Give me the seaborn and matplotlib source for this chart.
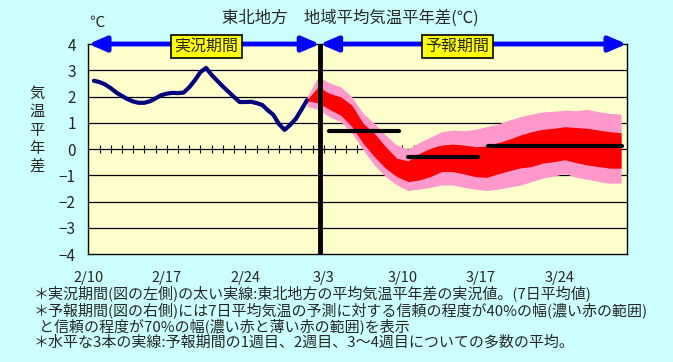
import numpy as np
import matplotlib
matplotlib.use("Agg")
import matplotlib.pyplot as plt
import seaborn as sns

# x positions are days counted from 2/10
tick_days = [0, 7, 14, 21, 28, 35, 42]
tick_labels = ["2/10", "2/17", "2/24", "3/3", "3/10", "3/17", "3/24"]

# observed 7-day mean anomaly (left side), read every half day
obs_day = np.arange(1, 40) * 0.5
obs_anom = [2.60, 2.55, 2.46, 2.32, 2.15, 2.02, 1.90, 1.81, 1.76, 1.76,
            1.82, 1.93, 2.05, 2.11, 2.14, 2.13, 2.15, 2.35, 2.62, 2.93,
            3.09, 2.82, 2.60, 2.38, 2.18, 1.98, 1.79, 1.79, 1.80, 1.75,
            1.68, 1.48, 1.30, 0.95, 0.73, 0.92, 1.15, 1.50, 1.86]

# forecast bands (right side): 70% range (pink) and 40% range (red)
fc_day = np.arange(19, 48) + 0.5
pink_top = [2.00, 2.75, 2.52, 2.37, 1.99, 1.36, 0.98, 0.53, 0.15, 0.00,
            0.25, 0.45, 0.66, 0.72, 0.70, 0.75, 0.85, 0.95, 1.10, 1.23,
            1.33, 1.41, 1.44, 1.48, 1.46, 1.51, 1.42, 1.36, 1.33]
red_top = [1.88, 2.37, 2.12, 1.99, 1.67, 0.98, 0.60, 0.09, -0.35, -0.45,
           -0.17, 0.03, 0.15, 0.19, 0.15, 0.09, 0.11, 0.24, 0.37, 0.53,
           0.66, 0.75, 0.79, 0.85, 0.82, 0.79, 0.72, 0.66, 0.62]
red_bot = [1.84, 1.76, 1.51, 1.29, 0.85, 0.22, -0.29, -0.73, -1.05, -1.24,
           -1.18, -1.05, -0.86, -0.86, -0.95, -1.05, -1.08, -0.95, -0.83, -0.72,
           -0.67, -0.54, -0.48, -0.41, -0.52, -0.61, -0.67, -0.73, -0.73]
pink_bot = [1.62, 1.51, 1.23, 1.04, 0.60, -0.04, -0.61, -1.05, -1.37, -1.58,
            -1.53, -1.46, -1.37, -1.37, -1.46, -1.53, -1.58, -1.53, -1.45, -1.38,
            -1.24, -1.11, -1.03, -0.93, -1.08, -1.15, -1.24, -1.30, -1.30]

# ensemble means: week 1, week 2, weeks 3-4
week_start = [21.5, 28.5, 35.6]
week_end = [27.7, 34.7, 47.6]
week_mean = [0.68, -0.29, 0.10]

split_day = 20.65

sns.set_style("white")
plt.rcParams["font.family"] = ["Noto Sans CJK JP", "DejaVu Sans"]

fig = plt.figure(figsize=(6.73, 3.62), dpi=100, facecolor="#CCFFFF")
ax = fig.add_axes([0.1312, 0.2983, 0.8, 0.5801])
ax.set_facecolor("#FFFFCC")

ax.set_xlim(0, 48)
ax.set_ylim(-4, 4)

# horizontal grid
for yv in range(-3, 4):
    ax.axhline(yv, color="black", lw=0.9, zorder=1)
# daily ticks on the zero line
ax.vlines(np.arange(1, 48), -0.15, 0.15, color="black", lw=0.8, zorder=1.5)

ax.fill_between(fc_day, pink_bot, pink_top, color="#FF99CC", lw=0, zorder=2)
ax.fill_between(fc_day, red_bot, red_top, color="#FF0000", lw=0, zorder=3)

sns.lineplot(x=obs_day, y=obs_anom, color="#000080", lw=3, ax=ax, zorder=4)

for s, e, m in zip(week_start, week_end, week_mean):
    ax.plot([s, e], [m, m], color="black", lw=3, solid_capstyle="round", zorder=5)

ax.axvline(split_day, color="black", lw=3.5, zorder=6)

# period arrows along the top
arrow = dict(arrowstyle="<|-|>,head_length=0.75,head_width=0.32", color="#0000FF",
             lw=3.5, shrinkA=0, shrinkB=0, mutation_scale=14)
ax.annotate("", xy=(0, 4), xytext=(split_day, 4), arrowprops=arrow,
            annotation_clip=False, zorder=7)
ax.annotate("", xy=(split_day, 4), xytext=(48, 4), arrowprops=arrow,
            annotation_clip=False, zorder=7)
box = dict(boxstyle="square,pad=0.2", facecolor="#FFFF00", edgecolor="black", lw=1.2)
ax.text(10.55, 3.9, "実況期間", ha="center", va="center", fontsize=11.5,
        bbox=box, zorder=8)
ax.text(32.9, 3.9, "予報期間", ha="center", va="center", fontsize=11.5,
        bbox=box, zorder=8)

ax.set_yticks(range(-4, 5))
ax.set_xticks(tick_days)
ax.set_xticklabels(tick_labels)
ax.tick_params(axis="y", length=0, pad=9, labelsize=11)
ax.tick_params(axis="x", direction="inout", length=9, width=1, pad=8, labelsize=10.5)
for sp in ax.spines.values():
    sp.set_color("black")
    sp.set_linewidth(1.0)

fig.text(97 / 673, 1 - 22 / 362, "℃", ha="center", va="center", fontsize=11)
fig.text(37 / 673, 1 - 130 / 362, "気\n温\n平\n年\n差", ha="center", va="center",
         fontsize=11, linespacing=1.1)
fig.text(350 / 673, 1 - 18 / 362, "東北地方　地域平均気温平年差(℃)",
         ha="center", va="center", fontsize=11.8)

notes = [
    (34, 293, "＊実況期間(図の左側)の太い実線:東北地方の平均気温平年差の実況値。(7日平均値)"),
    (34, 310, "＊予報期間(図の右側)には7日平均気温の予測に対する信頼の程度が40%の幅(濃い赤の範囲)"),
    (39, 326, "と信頼の程度が70%の幅(濃い赤と薄い赤の範囲)を表示"),
    (34, 342, "＊水平な3本の実線:予報期間の1週目、2週目、3～4週目についての多数の平均。"),
]
for nx, ny, t in notes:
    fig.text(nx / 673, 1 - ny / 362, t, ha="left", va="center", fontsize=10.8)

fig.savefig("out.png", dpi=100, facecolor=fig.get_facecolor())
